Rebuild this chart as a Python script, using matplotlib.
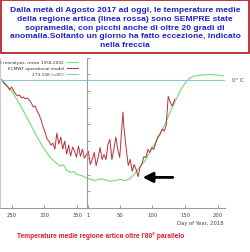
import matplotlib.pyplot as plt
import numpy as np
from matplotlib.patches import Rectangle

# ECMWF operational model, mean T north of 80N (K)
red_days_2017 = [232, 235, 238, 241, 244, 247, 250, 253, 256, 259, 262, 265, 268, 271, 274,
                 277, 280, 283, 286, 289, 292, 295, 298, 301, 304, 307, 310, 313, 316, 319,
                 322, 325, 328, 331, 334, 337, 340, 343, 346, 349, 352, 355, 358, 361]
red_temp_2017 = [273.5, 273.3, 272.4, 271.8, 271.2, 270.3, 271.2, 270.0, 269.1, 268.5, 268.8,
                 267.9, 268.2, 267.6, 267.9, 267.3, 266.4, 265.2, 265.5, 264.0, 262.8, 261.3,
                 259.2, 257.7, 255.6, 255.0, 253.8, 254.4, 252.6, 257.4, 254.1, 256.2, 252.6,
                 255.0, 251.1, 253.8, 250.5, 253.2, 252.0, 250.2, 253.5, 250.5, 252.6, 249.9]
red_days_2018 = [2, 5, 8, 11, 14, 17, 20, 23, 26, 29, 32, 35, 38, 41, 44, 47, 50, 53, 55, 56,
                 60, 63, 66, 69, 72, 75, 78, 81, 84, 87, 90, 93, 96, 99, 102, 105, 108, 111,
                 115, 118, 121, 124, 127, 130, 133, 134]
red_temp_2018 = [252.0, 248.0, 249.5, 251.6, 247.7, 250.1, 253.1, 249.5, 251.0, 249.5, 254.0,
                 255.5, 249.5, 252.5, 256.2, 252.5, 250.1, 258.6, 263.7, 260.0, 252.5, 247.7,
                 249.5, 246.0, 248.0, 246.5, 244.4, 247.1, 248.3, 250.4, 250.1, 252.5, 251.6,
                 253.1, 252.5, 254.6, 256.2, 257.0, 258.6, 258.0, 259.8, 268.4, 266.6, 265.5,
                 266.9, 267.5]

# ERA40 climatology 1958-2002
clim_days_2017 = [232, 240, 250, 263, 278, 289, 298, 309, 319, 324, 329, 334, 340, 345, 350, 358, 365]
clim_temp_2017 = [273.6, 272.4, 270.0, 265.8, 260.3, 256.2, 253.1, 250.1, 248.3, 247.6, 247.9,
                  246.2, 245.7, 245.9, 245.0, 244.6, 243.9]
clim_days_2018 = [0, 12, 20, 27, 35, 43, 50, 58, 66, 73, 81, 89, 96, 104, 111, 119, 127, 134,
                  142, 150, 157, 165, 177, 188, 198, 208]
clim_temp_2018 = [243.9, 243.2, 243.7, 243.5, 243.0, 243.2, 243.6, 243.2, 243.8, 245.3, 247.4,
                  249.2, 251.9, 254.3, 256.8, 260.0, 263.7, 266.6, 270.0, 272.4, 273.9, 274.5,
                  274.8, 274.9, 274.8, 274.5]

freezing = 273.15
ticks_2017 = [250, 300, 350]
ticks_2018 = [1, 50, 100, 150, 200]

title = ("Dalla metà di Agosto 2017 ad oggi, le temperature medie\n"
         "della regione artica (linea rossa) sono SEMPRE state\n"
         "sopramedia, con picchi anche di oltre 20 gradi di\n"
         "anomalia.Soltanto un giorno ha fatto eccezione, indicato\n"
         "nella freccia")
caption = "Temperature medie regione artica oltre l'80° parallelo"

# 2017 days placed before day 0 of 2018
red_t = np.concatenate([np.array(red_days_2017) - 365, red_days_2018])
red_k = np.concatenate([red_temp_2017, red_temp_2018])
clim_t = np.concatenate([np.array(clim_days_2017) - 365, clim_days_2018])
clim_k = np.concatenate([clim_temp_2017, clim_temp_2018])

fig = plt.figure(figsize=(2.5, 2.53), dpi=100)
ax = fig.add_axes([0, 44 / 253, 225 / 250, 150.5 / 253])

green = '#6ee06e'
red = '#b8303c'
blue = '#8cc6d2'
ax.plot(clim_t, clim_k, color=green, lw=0.8, label='ERA40 reanalysis, mean 1958-2002')
ax.plot(red_t, red_k, color=red, lw=0.7, label='ECMWF operational model')
ax.axhline(freezing, color=blue, lw=0.8, label='273.15K (=0C)')

ax.set_xlim(-132.8, 210.7)
ax.set_ylim(235, 280)

for s in ['top', 'right']:
    ax.spines[s].set_visible(False)
ax.spines['left'].set_position(('data', 0))
ax.spines['left'].set_color('#999999')
ax.spines['bottom'].set_color('#999999')
ax.spines['left'].set_linewidth(0.8)
ax.spines['bottom'].set_linewidth(0.8)
ax.axvline(-132.8, color='#cccccc', lw=0.8)

ax.set_yticks(np.arange(235, 281, 5))
ax.set_yticklabels([])
ax.set_xticks([d - 365 for d in ticks_2017] + ticks_2018)
ax.set_xticklabels([str(d) for d in ticks_2017 + ticks_2018])
ax.tick_params(direction='in', length=2, width=0.6, color='#888888',
               labelsize=3.8, labelcolor='#444444', pad=3)

ax.annotate('', xy=(85, 244.15), xytext=(131, 244.15),
            arrowprops=dict(arrowstyle='-|>,head_length=0.6,head_width=0.3',
                            color='black', lw=2.0, mutation_scale=10,
                            shrinkA=0, shrinkB=0))

ax.legend(loc='upper right', bbox_to_anchor=(80 / 250, 1 - 59 / 253),
          bbox_transform=fig.transFigure, markerfirst=False, frameon=False,
          fontsize=3.1, handlelength=2.5, handletextpad=0.7, labelspacing=0.45,
          borderpad=0, labelcolor='#333333')

fig.text(232 / 250, 1 - 81 / 253, '0° C', ha='left', va='center', fontsize=4,
         color='#444444')
fig.text(224 / 250, 1 - 224 / 253, 'Day of Year, 2018', ha='right', va='center',
         fontsize=3.8, color='#444444')
fig.text(17 / 250, 1 - 236 / 253, caption, ha='left', va='center', fontsize=4.75,
         fontweight='bold', color='#d41f2d', family='Liberation Sans')

fig.add_artist(Rectangle((0.8 / 250, 1 - 54 / 253), 248.4 / 250, 53.2 / 253,
                         transform=fig.transFigure, facecolor='white',
                         edgecolor='#b8262c', lw=1.3))
fig.text(0.5, 1 - 28 / 253, title, ha='center', va='center', fontsize=6.1,
         fontweight='bold', color='#2121c8', family='Liberation Sans', linespacing=1.33)

fig.savefig('out.png', dpi=100)
